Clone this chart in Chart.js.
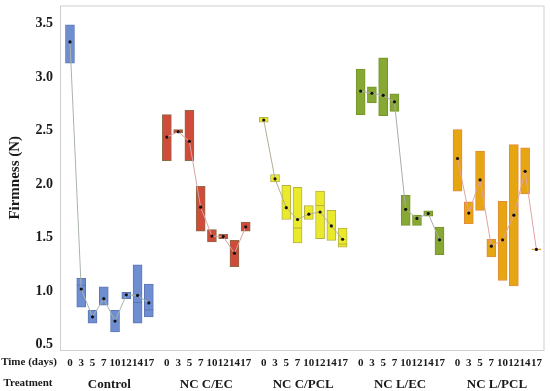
<!DOCTYPE html>
<html>
<head>
<meta charset="utf-8">
<script src="https://cdn.jsdelivr.net/npm/chart.js@4/dist/chart.umd.min.js"></script>
<style>
  html, body { margin: 0; padding: 0; background: #fff; }
  #wrap { width: 550px; height: 391px; position: relative; }
</style>
</head>
<body>
<div id="wrap"><canvas id="firmnessChart"></canvas></div>
<script>
// categories
var times = ['0', '3', '5', '7', '10', '12', '14', '17'];
var treatments = ['Control', 'NC C/EC', 'NC C/PCL', 'NC L/EC', 'NC L/PCL'];
var yTicks = [0.5, 1.0, 1.5, 2.0, 2.5, 3.0, 3.5];

// box bottom / top, mean and median (null where no median line shows)
var controlLow    = [3.13, 0.85, 0.70, 0.87, 0.62, 0.93, 0.70, 0.76];
var controlHigh   = [3.49, 1.12, 0.82, 1.04, 0.82, 0.99, 1.245, 1.066];
var controlMean   = [3.33, 1.02, 0.76, 0.93, 0.72, 0.966, 0.96, 0.89];
var controlMedian = [null, 1.056, null, null, null, null, 0.894, 0.825];

var cecLow    = [2.22, 2.48, 2.22, 1.56, 1.46, 1.49, 1.23, 1.56];
var cecHigh   = [2.65, 2.51, 2.69, 1.98, 1.575, 1.53, 1.475, 1.646];
var cecMean   = [2.44, 2.49, 2.40, 1.785, 1.515, 1.51, 1.355, 1.60];
var cecMedian = [null, null, null, null, null, null, null, null];

var cpclLow    = [2.58, 2.02, 1.67, 1.45, 1.67, 1.49, 1.475, 1.41];
var cpclHigh   = [2.625, 2.09, 1.99, 1.97, 1.80, 1.935, 1.755, 1.59];
var cpclMean   = [2.60, 2.05, 1.78, 1.67, 1.72, 1.74, 1.61, 1.485];
var cpclMedian = [null, null, null, 1.59, null, 1.80, null, 1.44];

var lecLow    = [2.65, 2.76, 2.64, 2.68, 1.615, 1.615, 1.70, 1.34];
var lecHigh   = [3.075, 2.91, 3.18, 2.845, 1.895, 1.71, 1.75, 1.60];
var lecMean   = [2.87, 2.85, 2.83, 2.77, 1.765, 1.68, 1.725, 1.48];
var lecMedian = [null, null, null, null, null, null, null, null];

var lpclLow    = [1.935, 1.63, 1.755, 1.32, 1.10, 1.05, 1.91, 1.385];
var lpclHigh   = [2.51, 1.835, 2.31, 1.485, 1.84, 2.37, 2.34, 1.395];
var lpclMean   = [2.24, 1.73, 2.04, 1.42, 1.48, 1.71, 2.12, 1.39];
var lpclMedian = [null, null, null, null, null, null, null, null];

var groups = [
    { low: controlLow, high: controlHigh, mean: controlMean, median: controlMedian, fill: '#6f8ed2', edge: '#5c77b6', line: '#a9b4a9' },
    { low: cecLow, high: cecHigh, mean: cecMean, median: cecMedian, fill: '#d14b3b', edge: '#8c6a44', line: '#d8a2a2' },
    { low: cpclLow, high: cpclHigh, mean: cpclMean, median: cpclMedian, fill: '#eaea2c', edge: '#b9b044', line: '#b6ad95' },
    { low: lecLow, high: lecHigh, mean: lecMean, median: lecMedian, fill: '#87a833', edge: '#74952a', line: '#ababab' },
    { low: lpclLow, high: lpclHigh, mean: lpclMean, median: lpclMedian, fill: '#e6a612', edge: '#e5893c', line: '#e0a3a0' }
];

// layout of the x positions: one unit per time point, a wider gap between treatments
var groupStep = 8.6;
function xPos(g, t) { return g * groupStep + t; }

var datasets = [];
var timeTicks = [];
var groupTicks = [];

for (var g = 0; g < groups.length; g++) {
    var grp = groups[g];
    var boxes = [], means = [], medians = [];
    for (var t = 0; t < times.length; t++) {
        var x = xPos(g, t);
        timeTicks.push(x);
        boxes.push({ x: x, y: [grp.low[t], grp.high[t]] });
        means.push({ x: x, y: grp.mean[t] });
        if (grp.median[t] !== null) medians.push({ x: x, y: grp.median[t] });
    }
    groupTicks.push(xPos(g, (times.length - 1) / 2));

    datasets.push({
        type: 'bar',
        label: treatments[g],
        data: boxes,
        backgroundColor: grp.fill,
        borderColor: grp.edge,
        borderWidth: 1,
        borderSkipped: false,
        barThickness: 9,
        grouped: false,
        order: 3
    });
    datasets.push({
        type: 'scatter',
        label: treatments[g] + ' median',
        data: medians,
        pointStyle: 'line',
        pointRadius: 4.5,
        borderColor: grp.edge,
        borderWidth: 1,
        showLine: false,
        order: 2
    });
    datasets.push({
        type: 'scatter',
        label: treatments[g] + ' mean',
        data: means,
        showLine: true,
        borderColor: grp.line,
        borderWidth: 1,
        pointRadius: 1.6,
        pointBackgroundColor: '#111',
        pointBorderWidth: 0,
        order: 1
    });
}

var xMin = -0.885;
var xMax = 42.12;

var framePlugin = {
    id: 'frameAndRowLabels',
    afterDraw: function(chart) {
        var ctx = chart.ctx;
        var a = chart.chartArea;
        ctx.save();
        ctx.strokeStyle = '#cfcfcf';
        ctx.lineWidth = 1;
        ctx.strokeRect(a.left + 0.5, a.top + 0.5, a.right - a.left - 1, a.bottom - a.top);
        ctx.fillStyle = '#1a1a1a';
        ctx.textAlign = 'center';
        ctx.textBaseline = 'middle';
        ctx.font = 'bold 11px "Liberation Serif"';
        ctx.fillText('Time (days)', 29, a.bottom + 12);
        ctx.fillText('Treatment', 28, a.bottom + 33);
        ctx.restore();
    }
};

var chart = new Chart(document.getElementById('firmnessChart'), {
    type: 'bar',
    data: { datasets: datasets },
    options: {
        responsive: true,
        maintainAspectRatio: false,
        animation: false,
        layout: { padding: { top: 4, right: 4, left: 0, bottom: 0 } },
        plugins: {
            legend: { display: false },
            tooltip: { enabled: false }
        },
        scales: {
            x: {
                type: 'linear',
                position: 'bottom',
                min: xMin,
                max: xMax,
                offset: false,
                grid: { display: false, drawTicks: false },
                border: { display: false },
                afterBuildTicks: function(scale) {
                    scale.ticks = timeTicks.map(function(v) { return { value: v }; });
                },
                afterFit: function(scale) {
                    scale.height = 21;
                    scale.paddingLeft = 0;
                    scale.paddingRight = 0;
                },
                ticks: {
                    autoSkip: false,
                    maxRotation: 0,
                    padding: 7,
                    color: '#1a1a1a',
                    font: { family: 'Liberation Serif', size: 11, weight: 'bold' },
                    callback: function(value, index) { return times[index % times.length]; }
                }
            },
            x2: {
                type: 'linear',
                position: 'bottom',
                min: xMin,
                max: xMax,
                offset: false,
                grid: { display: false, drawTicks: false },
                border: { display: false },
                afterBuildTicks: function(scale) {
                    scale.ticks = groupTicks.map(function(v) { return { value: v }; });
                },
                afterFit: function(scale) {
                    scale.height = 20;
                    scale.paddingLeft = 0;
                    scale.paddingRight = 0;
                },
                ticks: {
                    autoSkip: false,
                    maxRotation: 0,
                    padding: 6,
                    color: '#1a1a1a',
                    font: { family: 'Liberation Serif', size: 13, weight: 'bold' },
                    callback: function(value, index) { return treatments[index]; }
                }
            },
            y: {
                min: 0.45,
                max: 3.67,
                grid: { display: false, drawTicks: false },
                border: { display: false },
                afterBuildTicks: function(scale) {
                    scale.ticks = yTicks.map(function(v) { return { value: v }; });
                },
                afterFit: function(scale) {
                    scale.width = 60;
                    scale.paddingTop = 0;
                    scale.paddingBottom = 0;
                },
                title: {
                    display: true,
                    text: 'Firmness (N)',
                    color: '#1a1a1a',
                    font: { family: 'Liberation Serif', size: 15, weight: 'bold' },
                    padding: { top: 6, bottom: 0 }
                },
                ticks: {
                    padding: 7,
                    color: '#1a1a1a',
                    font: { family: 'Liberation Serif', size: 14, weight: 'bold' },
                    callback: function(value) { return value.toFixed(1); }
                }
            }
        }
    },
    plugins: [framePlugin]
});
</script>
</body>
</html>
